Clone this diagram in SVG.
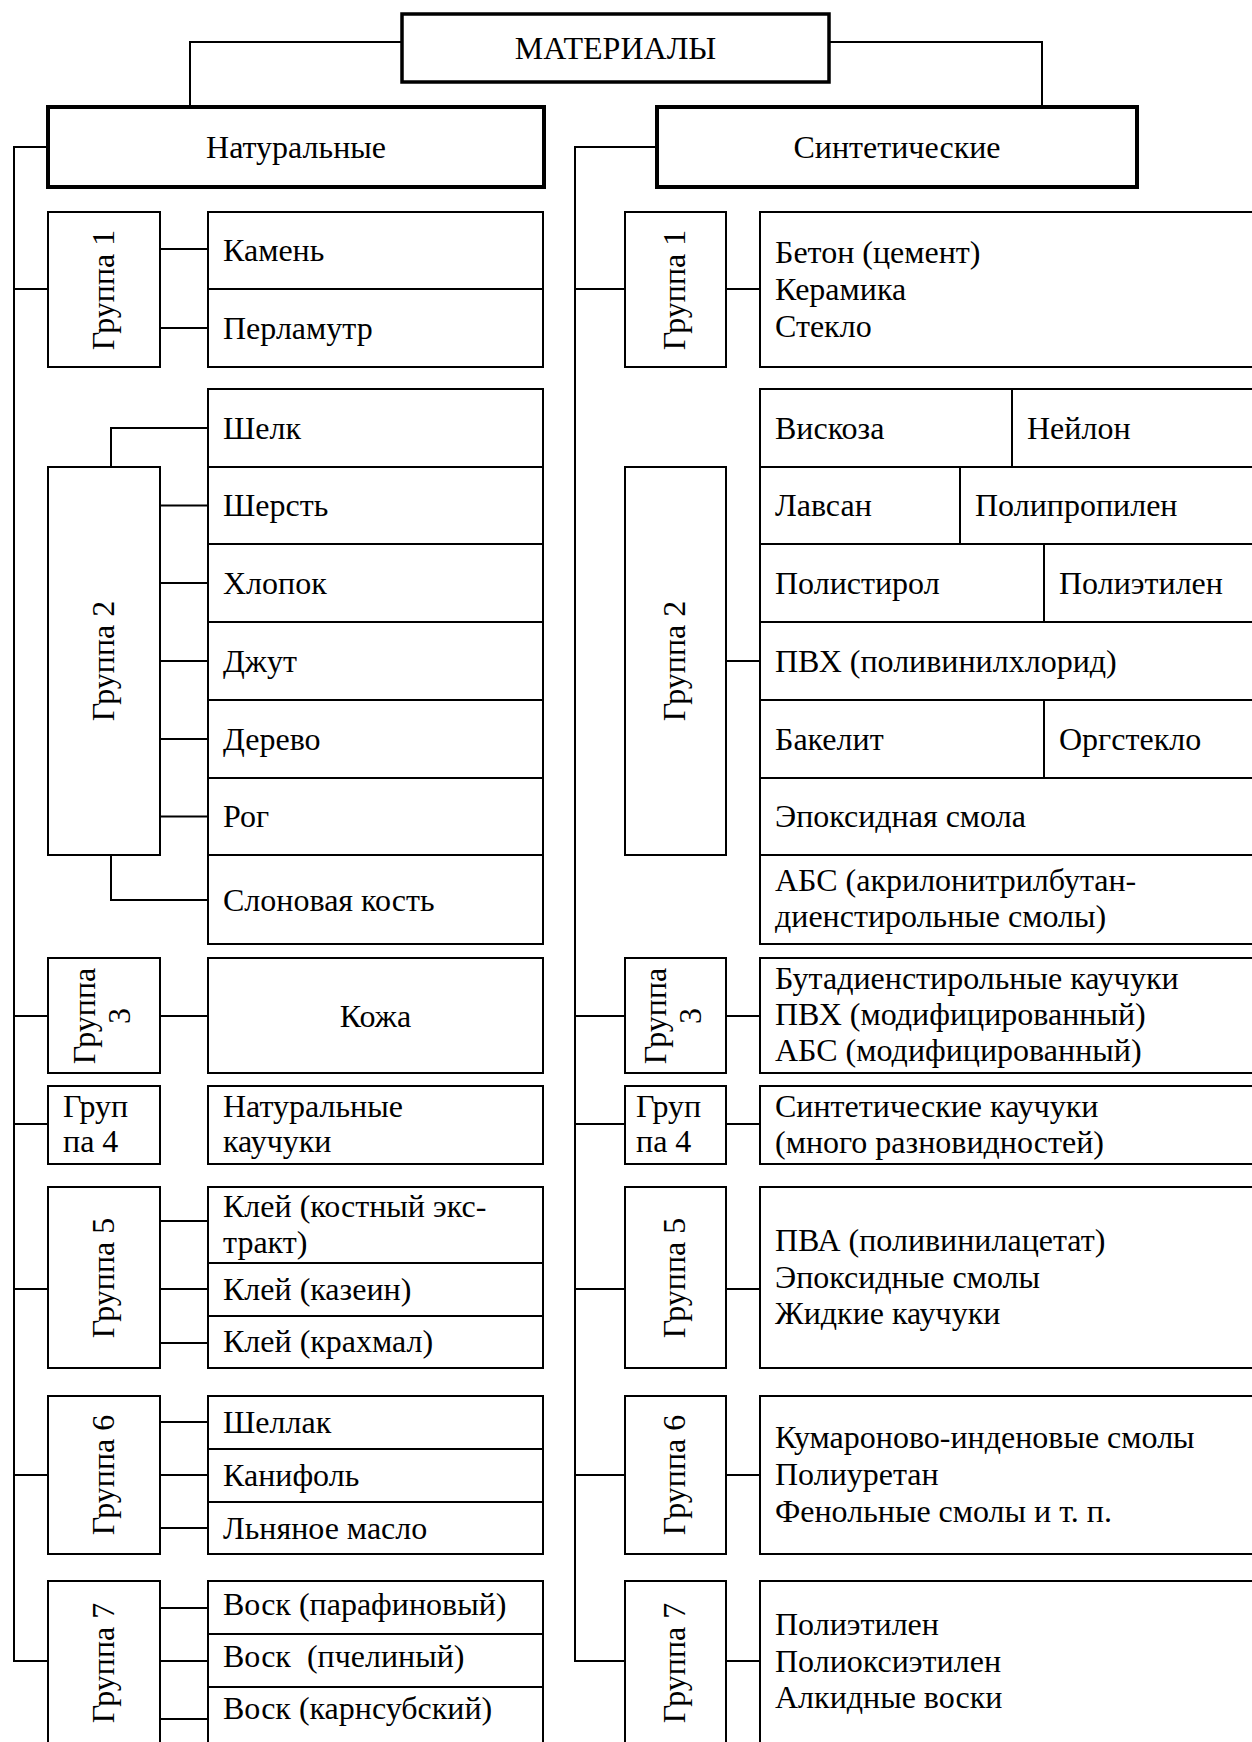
<svg xmlns="http://www.w3.org/2000/svg" width="1252" height="1742" viewBox="0 0 1252 1742">
<style>
.b{fill:#fff;stroke:#000;stroke-width:2}
.t4{stroke-width:4}
.t3{stroke-width:3.5}
.c{fill:none;stroke:#000;stroke-width:2}
text{font-family:"Liberation Serif","Times New Roman",serif;font-size:32px;fill:#000}
.m{text-anchor:middle}
.pre{white-space:pre}
</style>
<rect x="0" y="0" width="1252" height="1742" fill="#fff"/>
<g id="connectors">
<path class="c" d="M402,42 H190 V107 M829,42 H1042 V107"/>
<path class="c" d="M48,147 H14 V1661 H48 M14,289 H48 M14,1016 H48 M14,1124 H48 M14,1289 H48 M14,1475 H48"/>
<path class="c" d="M657,147 H575 V1661 H625 M575,289 H625 M575,1016 H625 M575,1124 H625 M575,1289 H625 M575,1475 H625"/>
<path class="c" d="M160,249 H208 M160,328 H208"/>
<path class="c" d="M111,467 V428 H208 M160,505.5 H208 M160,583 H208 M160,661 H208 M160,739 H208 M160,816.5 H208 M111,855 V900 H208"/>
<path class="c" d="M160,1016 H208"/>
<path class="c" d="M160,1221 H208 M160,1289 H208 M160,1343 H208"/>
<path class="c" d="M160,1422 H208 M160,1475 H208 M160,1528 H208"/>
<path class="c" d="M160,1608 H208 M160,1661 H208 M160,1719 H208"/>
<path class="c" d="M726,289 H760 M726,661 H760 M726,1016 H760 M726,1124 H760 M726,1289 H760 M726,1475 H760 M726,1661 H760"/>
</g>
<g id="materials"><rect class="b t3" x="402" y="14" width="427" height="68"/><text class="m" x="615.5" y="59">МАТЕРИАЛЫ</text></g>
<g id="natural"><rect class="b t4" x="48" y="107" width="496" height="80"/><text class="m" x="296" y="158">Натуральные</text></g>
<g id="synthetic"><rect class="b t4" x="657" y="107" width="480" height="80"/><text class="m" x="897" y="158">Синтетические</text></g>

<g id="n-g1"><rect class="b" x="48" y="212" width="112" height="155"/><text class="m" transform="translate(114,290) rotate(-90)">Группа 1</text></g>
<g id="n-g1-items">
<rect class="b" x="208" y="212" width="335" height="77"/><text x="223" y="261">Камень</text>
<rect class="b" x="208" y="289" width="335" height="78"/><text x="223" y="339">Перламутр</text>
</g>
<g id="n-g2"><rect class="b" x="48" y="467" width="112" height="388"/><text class="m" transform="translate(114,661) rotate(-90)">Группа 2</text></g>
<g id="n-g2-items">
<rect class="b" x="208" y="389" width="335" height="78"/><text x="223" y="439">Шелк</text>
<rect class="b" x="208" y="467" width="335" height="77"/><text x="223" y="516">Шерсть</text>
<rect class="b" x="208" y="544" width="335" height="78"/><text x="223" y="594">Хлопок</text>
<rect class="b" x="208" y="622" width="335" height="78"/><text x="223" y="672">Джут</text>
<rect class="b" x="208" y="700" width="335" height="78"/><text x="223" y="750">Дерево</text>
<rect class="b" x="208" y="778" width="335" height="77"/><text x="223" y="827">Рог</text>
<rect class="b" x="208" y="855" width="335" height="89"/><text x="223" y="911">Слоновая кость</text>
</g>
<g id="n-g3"><rect class="b" x="48" y="958" width="112" height="115"/><text class="m" transform="translate(95,1016) rotate(-90)">Группа</text><text class="m" transform="translate(130,1016) rotate(-90)">3</text></g>
<g id="n-g3-items"><rect class="b" x="208" y="958" width="335" height="115"/><text class="m" x="375.5" y="1027">Кожа</text></g>
<g id="n-g4"><rect class="b" x="48" y="1086" width="112" height="78"/><text x="63" y="1117">Груп</text><text x="63" y="1152">па 4</text></g>
<g id="n-g4-items"><rect class="b" x="208" y="1086" width="335" height="78"/><text x="223" y="1117">Натуральные</text><text x="223" y="1152">каучуки</text></g>
<g id="n-g5"><rect class="b" x="48" y="1187" width="112" height="181"/><text class="m" transform="translate(114,1278) rotate(-90)">Группа 5</text></g>
<g id="n-g5-items">
<rect class="b" x="208" y="1187" width="335" height="76"/><text x="223" y="1217">Клей (костный экс-</text><text x="223" y="1253">тракт)</text>
<rect class="b" x="208" y="1263" width="335" height="53"/><text x="223" y="1300">Клей (казеин)</text>
<rect class="b" x="208" y="1316" width="335" height="52"/><text x="223" y="1352">Клей (крахмал)</text>
</g>
<g id="n-g6"><rect class="b" x="48" y="1396" width="112" height="158"/><text class="m" transform="translate(114,1475) rotate(-90)">Группа 6</text></g>
<g id="n-g6-items">
<rect class="b" x="208" y="1396" width="335" height="53"/><text x="223" y="1433">Шеллак</text>
<rect class="b" x="208" y="1449" width="335" height="53"/><text x="223" y="1486">Канифоль</text>
<rect class="b" x="208" y="1502" width="335" height="52"/><text x="223" y="1539">Льняное масло</text>
</g>
<g id="n-g7"><rect class="b" x="48" y="1581" width="112" height="170"/><text class="m" transform="translate(114,1663) rotate(-90)">Группа 7</text></g>
<g id="n-g7-items">
<rect class="b" x="208" y="1581" width="335" height="53"/><text x="223" y="1615">Воск (парафиновый)</text>
<rect class="b" x="208" y="1634" width="335" height="53"/><text class="pre" x="223" y="1667" xml:space="preserve">Воск  (пчелиный)</text>
<rect class="b" x="208" y="1687" width="335" height="64"/><text x="223" y="1719">Воск (карнсубский)</text>
</g>

<g id="s-g1"><rect class="b" x="625" y="212" width="101" height="155"/><text class="m" transform="translate(685,290) rotate(-90)">Группа 1</text></g>
<g id="s-g1-items"><rect class="b" x="760" y="212" width="502" height="155"/><text x="775" y="263">Бетон (цемент)</text><text x="775" y="300">Керамика</text><text x="775" y="337">Стекло</text></g>
<g id="s-g2"><rect class="b" x="625" y="467" width="101" height="388"/><text class="m" transform="translate(685,661) rotate(-90)">Группа 2</text></g>
<g id="s-g2-items">
<rect class="b" x="760" y="389" width="502" height="78"/><path class="c" d="M1012,389 V467"/><text x="775" y="439">Вискоза</text><text x="1027" y="439">Нейлон</text>
<rect class="b" x="760" y="467" width="502" height="77"/><path class="c" d="M960,467 V544"/><text x="775" y="516">Лавсан</text><text x="975" y="516">Полипропилен</text>
<rect class="b" x="760" y="544" width="502" height="78"/><path class="c" d="M1044,544 V622"/><text x="775" y="594">Полистирол</text><text x="1059" y="594">Полиэтилен</text>
<rect class="b" x="760" y="622" width="502" height="78"/><text x="775" y="672">ПВХ (поливинилхлорид)</text>
<rect class="b" x="760" y="700" width="502" height="78"/><path class="c" d="M1044,700 V778"/><text x="775" y="750">Бакелит</text><text x="1059" y="750">Оргстекло</text>
<rect class="b" x="760" y="778" width="502" height="77"/><text x="775" y="827">Эпоксидная смола</text>
<rect class="b" x="760" y="855" width="502" height="89"/><text x="775" y="891">АБС (акрилонитрилбутан-</text><text x="775" y="927">диенстирольные смолы)</text>
</g>
<g id="s-g3"><rect class="b" x="625" y="958" width="101" height="115"/><text class="m" transform="translate(666,1016) rotate(-90)">Группа</text><text class="m" transform="translate(701,1016) rotate(-90)">3</text></g>
<g id="s-g3-items"><rect class="b" x="760" y="958" width="502" height="115"/><text x="775" y="989">Бутадиенстирольные каучуки</text><text x="775" y="1025">ПВХ (модифицированный)</text><text x="775" y="1061">АБС (модифицированный)</text></g>
<g id="s-g4"><rect class="b" x="625" y="1086" width="101" height="78"/><text x="636" y="1117">Груп</text><text x="636" y="1152">па 4</text></g>
<g id="s-g4-items"><rect class="b" x="760" y="1086" width="502" height="78"/><text x="775" y="1117">Синтетические каучуки</text><text x="775" y="1153">(много разновидностей)</text></g>
<g id="s-g5"><rect class="b" x="625" y="1187" width="101" height="181"/><text class="m" transform="translate(685,1278) rotate(-90)">Группа 5</text></g>
<g id="s-g5-items"><rect class="b" x="760" y="1187" width="502" height="181"/><text x="775" y="1251">ПВА (поливинилацетат)</text><text x="775" y="1288">Эпоксидные смолы</text><text x="775" y="1324">Жидкие каучуки</text></g>
<g id="s-g6"><rect class="b" x="625" y="1396" width="101" height="158"/><text class="m" transform="translate(685,1475) rotate(-90)">Группа 6</text></g>
<g id="s-g6-items"><rect class="b" x="760" y="1396" width="502" height="158"/><text x="775" y="1448">Кумароново-инденовые смолы</text><text x="775" y="1485">Полиуретан</text><text x="775" y="1522">Фенольные смолы и т. п.</text></g>
<g id="s-g7"><rect class="b" x="625" y="1581" width="101" height="170"/><text class="m" transform="translate(685,1663) rotate(-90)">Группа 7</text></g>
<g id="s-g7-items"><rect class="b" x="760" y="1581" width="502" height="170"/><text x="775" y="1635">Полиэтилен</text><text x="775" y="1672">Полиоксиэтилен</text><text x="775" y="1708">Алкидные воски</text></g>
</svg>
